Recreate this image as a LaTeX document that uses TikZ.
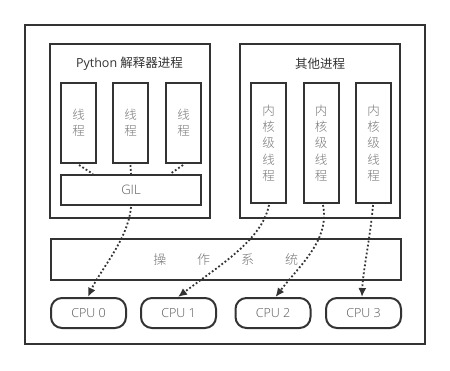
\documentclass[tikz,border=0pt]{standalone}
\usepackage{fontspec}
\setmainfont{Open Sans}[UprightFont=* Light]
\newfontfamily\cjk{Noto Sans CJK SC}[UprightFont=* Light]
\newfontfamily\regfont{Open Sans}
\newfontfamily\cjkreg{Noto Sans CJK SC}
\usetikzlibrary{arrows.meta,calc}
\definecolor{linec}{HTML}{333333}
\definecolor{txtc}{HTML}{555555}
\definecolor{lighttxt}{HTML}{777777}
\begin{document}
\begin{tikzpicture}[x=1pt,y=-1pt,
  frame/.style={draw=linec,line width=2pt},
  box/.style={draw=linec,line width=2pt,inner sep=0pt,anchor=north west},
  thbox/.style={box,minimum width=35pt,minimum height=80pt,text=lighttxt,font=\cjk\fontsize{12.5}{16}\selectfont,align=center},
  kbox/.style={box,minimum width=35pt,minimum height=120pt,text=lighttxt,font=\cjk\fontsize{12.5}{16.3}\selectfont,align=center},
  cpu/.style={draw=linec,line width=2pt,rounded corners=11pt,minimum width=75pt,minimum height=30pt,anchor=north west,inner sep=0pt,text=txtc,font=\fontsize{12.5}{15}\selectfont},
  conn/.style={draw=linec,line width=1.8pt,dash pattern=on 1.8pt off 2.2pt},
  arr/.style={conn,-{Latex[length=9pt,width=8pt]}}]
\useasboundingbox (0,0) rectangle (450,370);
\fill[white] (0,0) rectangle (450,370);
\draw[frame] (25,25) rectangle (425,344);
% Python process
\draw[frame] (49.5,44) rectangle (210,218);
\node[text=linec,font=\regfont\fontsize{12.5}{15}\selectfont] (ptitle) at (129.5,64) {Python {\cjkreg 解释器进程}};
\node[thbox] (t1) at (60,82) {线\\程};
\node[thbox] (t2) at (112,82) {线\\程};
\node[thbox] (t3) at (165,82) {线\\程};
\node[box,minimum width=140pt,minimum height=30pt,text=txtc,font=\fontsize{13}{15}\selectfont] (gil) at (60,174) {GIL};
% Other process
\draw[frame] (240,44) rectangle (400,218);
\node[text=linec,font=\cjkreg\fontsize{12.5}{15}\selectfont] (otitle) at (320,64) {其他进程};
\node[kbox] (k1) at (250,82) {内\\核\\级\\线\\程};
\node[kbox] (k2) at (302.5,82) {内\\核\\级\\线\\程};
\node[kbox] (k3) at (355,82) {内\\核\\级\\线\\程};
% OS
\node[box,minimum width=350.5pt,minimum height=41pt,text=lighttxt,font=\cjk\fontsize{13}{15}\selectfont] (os) at (49.5,238) {操\hspace{31pt}作\hspace{31pt}系\hspace{31pt}统};
% CPUs
\node[cpu] (c0) at (50,297) {CPU 0};
\node[cpu] (c1) at (140,297) {CPU 1};
\node[cpu] (c2) at (234.5,297) {CPU 2};
\node[cpu] (c3) at (325,297) {CPU 3};
% thread to GIL
\draw[conn] ($(t1.south)+(0.5,1)$) -- ($(gil.north west)+(33,0)$);
\draw[conn] ($(t2.south)+(0,1)$) -- (gil.north);
\draw[conn] ($(t3.south)+(-0.5,1)$) -- ($(gil.north east)+(-32,0)$);
% to CPUs
\draw[arr] ($(gil.south)+(0,1)$) .. controls (128,240) and (100,270) .. ($(c0.north west)+(38,0)$);
\draw[arr] ($(k1.south)+(0.5,1)$) .. controls (262,240) and (220,265) .. ($(c1.north west)+(38,0)$);
\draw[arr] ($(k2.south)+(2,1)$) .. controls (330,240) and (300,265) .. ($(c2.north west)+(41,0)$);
\draw[arr] ($(k3.south)+(-0.5,1)$) .. controls (370,240) and (363,270) .. ($(c3.north west)+(37,0)$);
\end{tikzpicture}
\end{document}
